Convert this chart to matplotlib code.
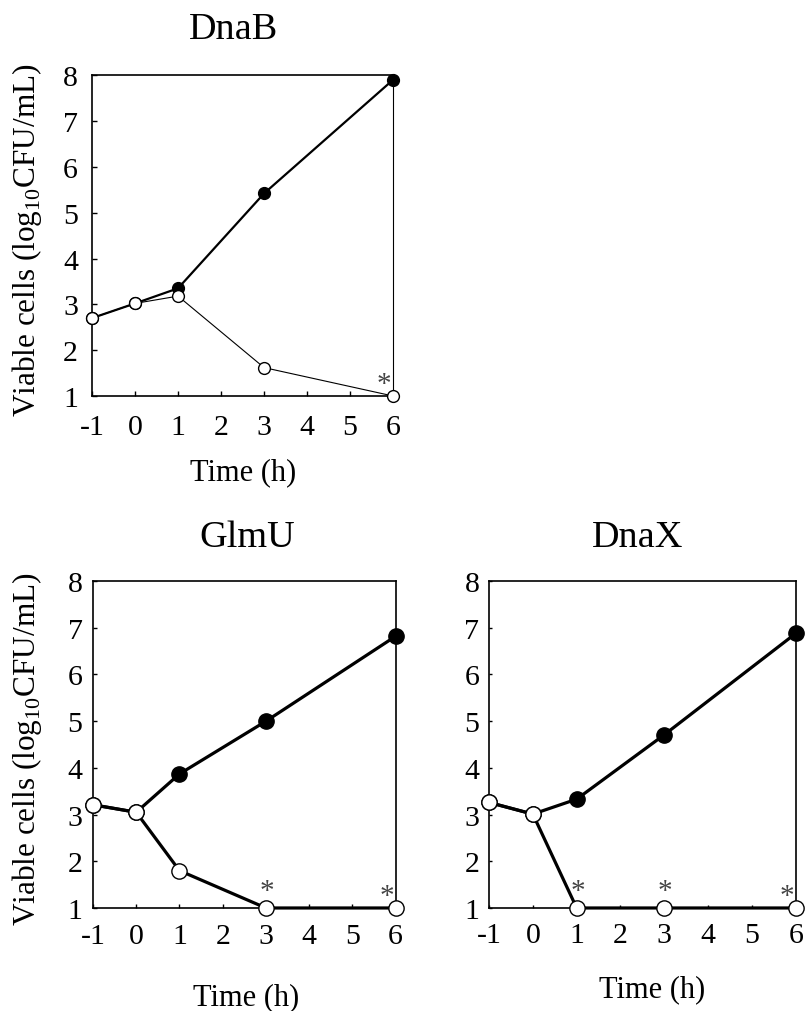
import numpy as np
import matplotlib.pyplot as plt

plt.rcParams['font.family'] = ['Liberation Serif', 'DejaVu Serif']
plt.rcParams['mathtext.fontset'] = 'custom'
plt.rcParams['mathtext.rm'] = 'Liberation Serif'

# tempo (h)
time = [-1, 0, 1, 3, 6]
xticks = [-1, 0, 1, 2, 3, 4, 5, 6]

# DnaB
dnab_filled = [2.7, 3.02, 3.35, 5.42, 7.9]
dnab_open = [2.7, 3.02, 3.18, 1.62, 1.0]
dnab_star = [6]

# GlmU
glmu_filled = [3.21, 3.05, 3.87, 5.0, 6.82]
glmu_open = [3.21, 3.05, 1.8, 1.0, 1.0]
glmu_star = [3, 6]

# DnaX
dnax_filled = [3.26, 3.01, 3.33, 4.71, 6.88]
dnax_open = [3.26, 3.01, 1.0, 1.0, 1.0]
dnax_star = [1, 3, 6]

ylabel = 'Viable cells (log$_{10}$CFU/mL)'
PX = 0.72  # pontos por pixel (dpi 100)


def painel(ax, titulo, cheio, aberto, estrelas, lw_cheio, lw_aberto, ms, ticklen,
           tit_pos, xl_pos, xpad, ypad):
    ax.plot(time, cheio, '-o', color='black', lw=lw_cheio, ms=ms,
            mfc='black', mec='black', mew=1, clip_on=False, zorder=3)
    ax.plot(time, aberto, '-o', color='black', lw=lw_aberto, ms=ms,
            mfc='white', mec='black', mew=1, clip_on=False, zorder=4)
    for xs in estrelas:
        i = time.index(xs)
        if xs == time[-1]:
            off = (-9 * PX, 12 * PX)
        else:
            off = (1 * PX, 17 * PX)
        ax.annotate('*', (xs, aberto[i]), xytext=off,
                    textcoords='offset points', ha='center', va='center',
                    fontsize=21, color='#444444', zorder=5)
    ax.set_xlim(-1, 6)
    ax.set_ylim(1, 8)
    ax.set_xticks(xticks)
    ax.set_xticklabels([str(t) for t in xticks])
    ax.set_yticks(range(1, 9))
    ax.tick_params(direction='in', length=ticklen, width=1, labelsize=21.5)
    ax.tick_params(axis='x', pad=xpad)
    ax.tick_params(axis='y', pad=ypad)
    for s in ax.spines.values():
        s.set_linewidth(1.2)
    ax.text(tit_pos[0], tit_pos[1], titulo, transform=ax.transAxes,
            ha='center', va='baseline', fontsize=27.5)
    ax.set_xlabel('Time (h)', fontsize=22)
    ax.xaxis.set_label_coords(xl_pos[0], xl_pos[1])
    ax.xaxis.label.set_va('baseline')


fig = plt.figure(figsize=(8.05, 10.12), dpi=100)

ax1 = fig.add_axes([0.1143, 0.6077, 0.374, 0.317])
painel(ax1, 'DnaB', dnab_filled, dnab_open, dnab_star, 1.6, 0.8, 8.5, 3.5,
       (0.470, 1.115), (0.503, -0.259), 13, 10)
ax1.set_ylabel(ylabel, fontsize=22.5)
ax1.yaxis.set_label_coords(-0.216, 0.49)
ax1.yaxis.label.set_va('center')
ax1.spines['right'].set_linewidth(0.8)

ax2 = fig.add_axes([0.1155, 0.1018, 0.376, 0.323])
painel(ax2, 'GlmU', glmu_filled, glmu_open, glmu_star, 2.3, 2.3, 11, 3,
       (0.508, 1.107), (0.507, -0.294), 11, 7.5)
ax2.set_ylabel(ylabel, fontsize=22.5)
ax2.yaxis.set_label_coords(-0.218, 0.49)
ax2.yaxis.label.set_va('center')

ax3 = fig.add_axes([0.6075, 0.1018, 0.381, 0.323])
painel(ax3, 'DnaX', dnax_filled, dnax_open, dnax_star, 2.3, 2.3, 11, 2,
       (0.485, 1.107), (0.533, -0.269), 10, 7)

plt.savefig('out.png', dpi=100)
